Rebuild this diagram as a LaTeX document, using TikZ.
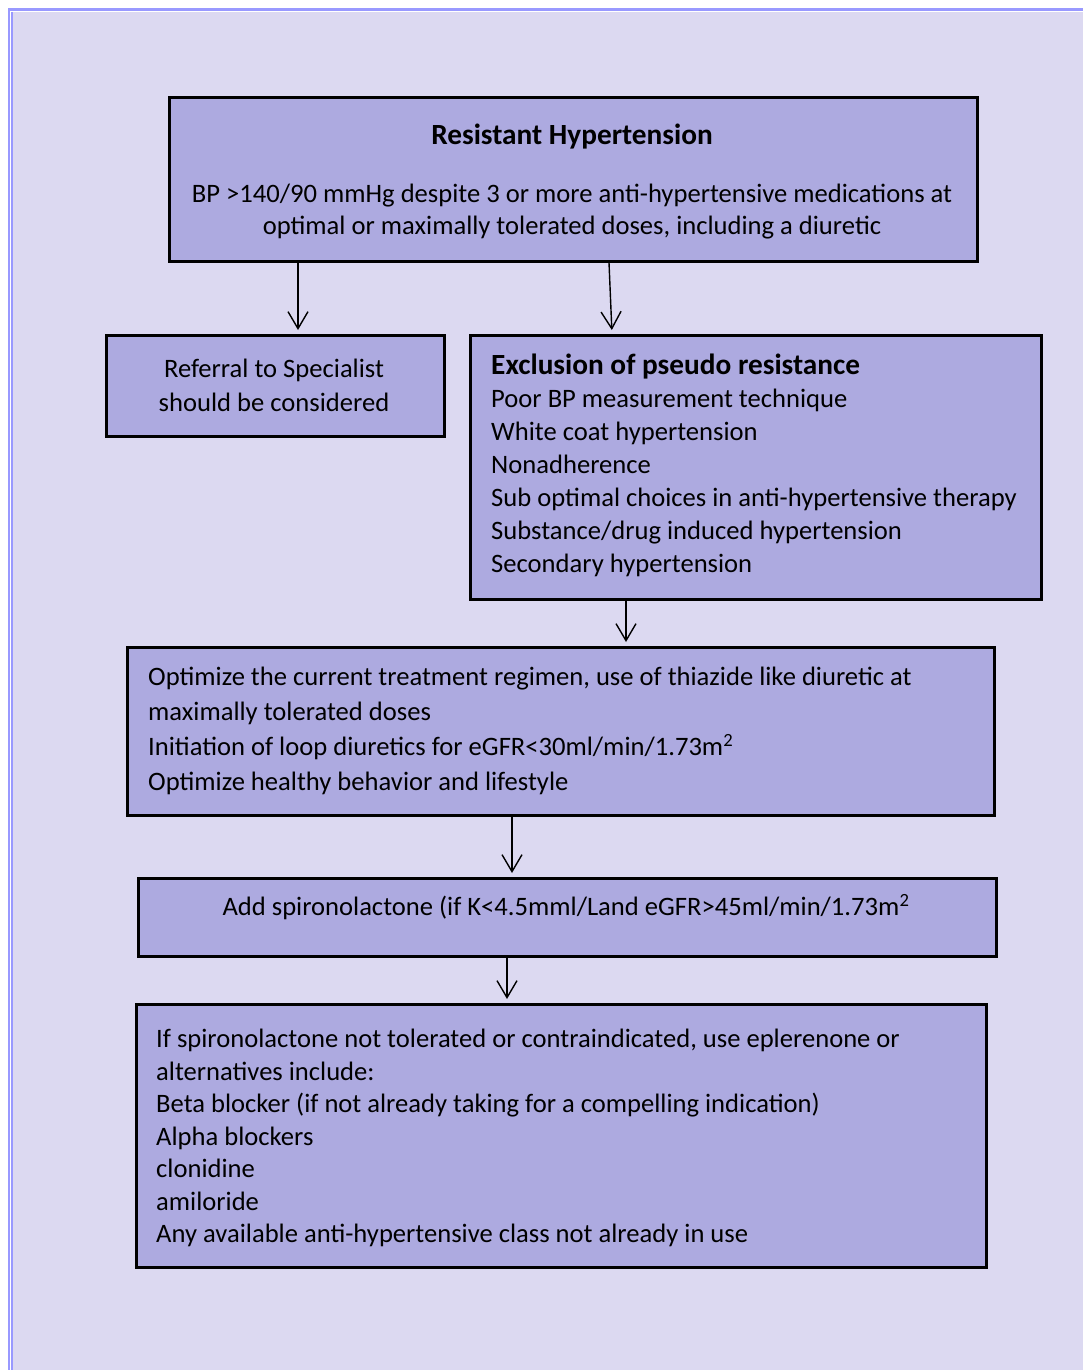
\documentclass[tikz,border=0pt]{standalone}
\usepackage{fontspec}
\setmainfont{Carlito}
\usetikzlibrary{arrows.meta}
\definecolor{pagebg}{HTML}{DCD9F1}
\definecolor{boxfill}{HTML}{ADAAE0}
\definecolor{frameblue}{HTML}{9999FF}
\newcommand{\bigbold}[1]{{\fontsize{29.3}{33}\selectfont\bfseries #1}}
\tikzset{
  flowbox/.style={draw=black, line width=2.6pt, fill=boxfill, anchor=north west, inner sep=0pt},
  txt/.style={font=\fontsize{26.6}{33}\selectfont, inner sep=0pt, text=black},
  flowarrow/.style={line width=1.4pt, shorten >=4pt, -{Straight Barb[length=17pt,width=20pt,line width=1.4pt]}},
}
\begin{document}
\begin{tikzpicture}[x=1pt,y=-1pt]
\useasboundingbox (0,0) rectangle (1083,1370);
% page background and frame
\fill[white] (0,0) rectangle (1083,1370);
\fill[pagebg] (8,8) rectangle (1083,1370);
\fill[frameblue] (8,8) rectangle (1083,11);
\fill[frameblue] (8,8) rectangle (9.8,1370);
\fill[white] (9.8,11) rectangle (11,1370);
\fill[white] (11,11) rectangle (1083,11.8);
\fill[frameblue] (11,11.8) rectangle (12.8,1370);

% boxes
\node[flowbox, minimum width=808pt, minimum height=164pt] (top) at (168,96) {};
\node[flowbox, minimum width=338pt, minimum height=101pt] (ref) at (105,334) {};
\node[flowbox, minimum width=571pt, minimum height=264pt] (excl) at (469,334) {};
\node[flowbox, minimum width=867pt, minimum height=168pt] (opt) at (126,646) {};
\node[flowbox, minimum width=858pt, minimum height=78pt] (spiro) at (137,877) {};
\node[flowbox, minimum width=850pt, minimum height=263pt] (alt) at (135,1003) {};

% texts
\node[txt] (toptitle) at (572,137) {\bigbold{Resistant Hypertension}};
\node[txt, align=center, font=\fontsize{26.6}{32}\selectfont] (toptext) at (572,212) {BP >140/90 mmHg despite 3 or more anti-hypertensive medications at\\optimal or maximally tolerated doses, including a diuretic};
\node[txt, align=center, font=\fontsize{26.6}{34}\selectfont] (reftext) at (274,385) {Referral to Specialist\\should be considered};
\node[txt, align=left, anchor=west] (excltext) at (491,465) {\bigbold{Exclusion of pseudo resistance}\\Poor BP measurement technique\\White coat hypertension\\Nonadherence\\Sub optimal choices in anti-hypertensive therapy\\Substance/drug induced hypertension\\Secondary hypertension};
\node[txt, align=left, anchor=west, font=\fontsize{26.6}{35}\selectfont] (opttext) at (148,731) {Optimize the current treatment regimen, use of thiazide like diuretic at\\maximally tolerated doses\\Initiation of loop diuretics for eGFR<30ml/min/1.73m\textsuperscript{2}\\Optimize healthy behavior and lifestyle};
\node[txt] (spirotext) at (566,907) {Add spironolactone (if K<4.5mml/Land eGFR>45ml/min/1.73m\textsuperscript{2}};
\node[txt, align=left, anchor=west, font=\fontsize{26.6}{32.5}\selectfont] (alttext) at (156,1138) {If spironolactone not tolerated or contraindicated, use eplerenone or\\alternatives include:\\Beta blocker (if not already taking for a compelling indication)\\Alpha blockers\\clonidine\\amiloride\\Any available anti-hypertensive class not already in use};

% connectors
\coordinate (c1) at (298,0);
\coordinate (c2s) at (609,0);
\coordinate (c2e) at (612,0);
\coordinate (c3) at (626,0);
\coordinate (c4) at (512,0);
\coordinate (c5) at (507,0);
\draw[flowarrow] (top.south -| c1) -- (ref.north -| c1);
\draw[flowarrow] (top.south -| c2s) -- (excl.north -| c2e);
\draw[flowarrow] (excl.south -| c3) -- (opt.north -| c3);
\draw[flowarrow] (opt.south -| c4) -- (spiro.north -| c4);
\draw[flowarrow] (spiro.south -| c5) -- (alt.north -| c5);
\end{tikzpicture}
\end{document}
